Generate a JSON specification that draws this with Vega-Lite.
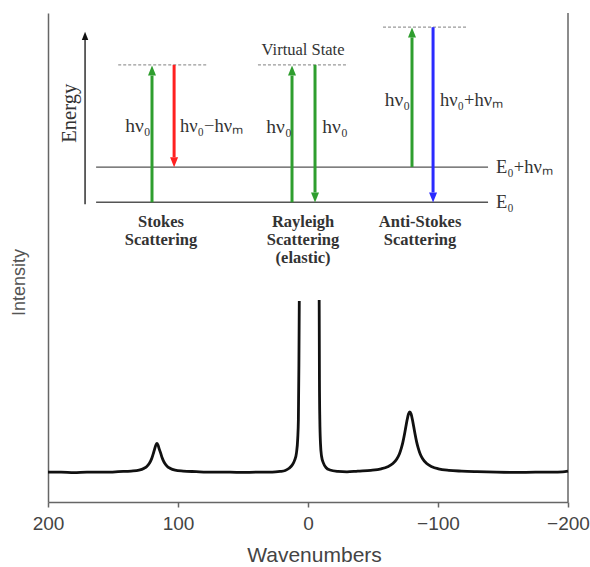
{
  "$schema": "https://vega.github.io/schema/vega-lite/v6.json",
  "width": 520,
  "height": 489,
  "autosize": {"type": "none"},
  "padding": {"left": 48, "top": 13, "right": 22, "bottom": 65},
  "config": {"view": {"stroke": null}, "font": "Liberation Sans"},
  "datasets": {
    "spectrum": [
      {"w": 200, "i": 6.1, "seg": "a"}, {"w": 190, "i": 6.1, "seg": "a"}, {"w": 180, "i": 6.0, "seg": "a"}, {"w": 170, "i": 6.1, "seg": "a"},
      {"w": 160, "i": 6.1, "seg": "a"}, {"w": 152, "i": 6.1, "seg": "a"}, {"w": 146, "i": 6.2, "seg": "a"}, {"w": 136, "i": 6.33, "seg": "a"},
      {"w": 130, "i": 6.51, "seg": "a"}, {"w": 126, "i": 6.91, "seg": "a"}, {"w": 124, "i": 7.28, "seg": "a"}, {"w": 122, "i": 7.92, "seg": "a"},
      {"w": 121, "i": 8.4, "seg": "a"}, {"w": 120, "i": 9.05, "seg": "a"}, {"w": 119, "i": 9.88, "seg": "a"}, {"w": 118, "i": 10.82, "seg": "a"},
      {"w": 117, "i": 11.65, "seg": "a"}, {"w": 116.2, "i": 12.0, "seg": "a"}, {"w": 115.4, "i": 11.65, "seg": "a"}, {"w": 114.4, "i": 10.82, "seg": "a"},
      {"w": 113.2, "i": 9.88, "seg": "a"}, {"w": 112.2, "i": 9.05, "seg": "a"}, {"w": 111.2, "i": 8.4, "seg": "a"}, {"w": 110.2, "i": 7.92, "seg": "a"},
      {"w": 108.2, "i": 7.28, "seg": "a"}, {"w": 106.2, "i": 6.91, "seg": "a"}, {"w": 102.2, "i": 6.51, "seg": "a"}, {"w": 96, "i": 6.33, "seg": "a"},
      {"w": 86, "i": 6.2, "seg": "a"}, {"w": 78, "i": 6.1, "seg": "a"}, {"w": 70, "i": 6.1, "seg": "a"},
      {"w": 60, "i": 6.1, "seg": "a"}, {"w": 50, "i": 6.05, "seg": "a"}, {"w": 40, "i": 6.1, "seg": "a"}, {"w": 30, "i": 6.1, "seg": "a"},
      {"w": 25, "i": 6.15, "seg": "a"}, {"w": 21.5, "i": 6.25, "seg": "a"}, {"w": 17.5, "i": 6.45, "seg": "a"}, {"w": 14.5, "i": 6.9, "seg": "a"},
      {"w": 12.0, "i": 7.6, "seg": "a"}, {"w": 10.2, "i": 8.6, "seg": "a"}, {"w": 8.9, "i": 10.0, "seg": "a"}, {"w": 7.9, "i": 13.0, "seg": "a"},
      {"w": 7.4, "i": 16.8, "seg": "a"}, {"w": 7.0, "i": 28.0, "seg": "a"}, {"w": 6.7, "i": 41.1, "seg": "a"},
      {"w": -8.6, "i": 41.3, "seg": "b"}, {"w": -8.8, "i": 25.0, "seg": "b"}, {"w": -9.1, "i": 16.8, "seg": "b"}, {"w": -9.6, "i": 12.0, "seg": "b"},
      {"w": -10.4, "i": 9.4, "seg": "b"}, {"w": -11.8, "i": 8.0, "seg": "b"}, {"w": -14, "i": 7.0, "seg": "b"}, {"w": -16.9, "i": 6.55, "seg": "b"},
      {"w": -23, "i": 6.25, "seg": "b"}, {"w": -30, "i": 6.15, "seg": "b"}, {"w": -38.3, "i": 6.31, "seg": "b"}, {"w": -48.3, "i": 6.47, "seg": "b"},
      {"w": -56.3, "i": 6.78, "seg": "b"}, {"w": -61.3, "i": 7.21, "seg": "b"}, {"w": -65.3, "i": 7.86, "seg": "b"}, {"w": -68.3, "i": 8.8, "seg": "b"},
      {"w": -70.3, "i": 9.83, "seg": "b"}, {"w": -71.8, "i": 11.02, "seg": "b"}, {"w": -73, "i": 12.25, "seg": "b"}, {"w": -74.3, "i": 13.96, "seg": "b"},
      {"w": -75.3, "i": 15.43, "seg": "b"}, {"w": -76.3, "i": 16.86, "seg": "b"}, {"w": -77.3, "i": 17.98, "seg": "b"}, {"w": -78.3, "i": 18.4, "seg": "b"},
      {"w": -79.3, "i": 17.98, "seg": "b"}, {"w": -80.3, "i": 16.86, "seg": "b"}, {"w": -81.3, "i": 15.43, "seg": "b"}, {"w": -82.3, "i": 13.96, "seg": "b"},
      {"w": -83.6, "i": 12.25, "seg": "b"}, {"w": -84.8, "i": 11.02, "seg": "b"}, {"w": -86.3, "i": 9.83, "seg": "b"}, {"w": -88.3, "i": 8.8, "seg": "b"},
      {"w": -91.3, "i": 7.86, "seg": "b"}, {"w": -95.3, "i": 7.21, "seg": "b"}, {"w": -100.3, "i": 6.78, "seg": "b"}, {"w": -108.3, "i": 6.47, "seg": "b"},
      {"w": -118.3, "i": 6.31, "seg": "b"}, {"w": -130, "i": 6.2, "seg": "b"}, {"w": -145, "i": 6.1, "seg": "b"}, {"w": -160, "i": 6.05, "seg": "b"},
      {"w": -175, "i": 6.1, "seg": "b"}, {"w": -188, "i": 6.1, "seg": "b"}, {"w": -196, "i": 6.15, "seg": "b"}, {"w": -200, "i": 6.3, "seg": "b"}
    ],
    "frame": [{"w": -200, "i": 0, "i2": 100}],
    "levels": [
      {"w": 163, "w2": -138.5, "i": 68.5, "kind": "solid"},
      {"w": 163, "w2": -138.5, "i": 61.3, "kind": "solid"},
      {"w": 146, "w2": 77, "i": 89.4, "kind": "dashed"},
      {"w": 38.5, "w2": -30.8, "i": 89.4, "kind": "dashed"},
      {"w": -57.7, "w2": -122.3, "i": 97.1, "kind": "dashed"}
    ],
    "shafts": [
      {"w": 120, "i": 61.3, "i2": 87.2, "kind": "green"},
      {"w": 103, "i": 89.4, "i2": 70.5, "kind": "red"},
      {"w": 12.3, "i": 61.3, "i2": 87.2, "kind": "green"},
      {"w": -5.4, "i": 89.4, "i2": 63.3, "kind": "green"},
      {"w": -80, "i": 68.5, "i2": 95.0, "kind": "green"},
      {"w": -96.2, "i": 97.1, "i2": 63.3, "kind": "blue"},
      {"w": 171.5, "i": 60.9, "i2": 94.5, "kind": "black"}
    ],
    "heads": [
      {"w": 120, "i": 87.2, "kind": "green", "dir": "up"},
      {"w": 103, "i": 70.5, "kind": "red", "dir": "down"},
      {"w": 12.3, "i": 87.2, "kind": "green", "dir": "up"},
      {"w": -5.4, "i": 63.3, "kind": "green", "dir": "down"},
      {"w": -80, "i": 95.0, "kind": "green", "dir": "up"},
      {"w": -96.2, "i": 63.3, "kind": "blue", "dir": "down"},
      {"w": 171.5, "i": 94.5, "kind": "black", "dir": "up"}
    ],
    "formulasCenter": [
      {"w": 130.8, "i": 76.9, "t": "hν₀"},
      {"w": 22.3, "i": 76.7, "t": "hν₀"},
      {"w": -20.8, "i": 76.7, "t": "hν₀"},
      {"w": -68.8, "i": 82.2, "t": "hν₀"}
    ],
    "formulasLeft": [
      {"w": 98.5, "i": 76.9, "t": "hν₀−hνₘ"},
      {"w": -101.5, "i": 82.2, "t": "hν₀+hνₘ"},
      {"w": -144.6, "i": 68.5, "t": "E₀+hνₘ"},
      {"w": -144.6, "i": 61.3, "t": "E₀"}
    ],
    "notes": [{"w": 3.8, "i": 92.4, "t": "Virtual State"}],
    "processes": [
      {"w": 113.1, "i": 57.3, "t": "Stokes"},
      {"w": 113.1, "i": 53.6, "t": "Scattering"},
      {"w": 3.8, "i": 57.3, "t": "Rayleigh"},
      {"w": 3.8, "i": 53.6, "t": "Scattering"},
      {"w": 3.8, "i": 49.9, "t": "(elastic)"},
      {"w": -86.2, "i": 57.3, "t": "Anti-Stokes"},
      {"w": -86.2, "i": 53.6, "t": "Scattering"}
    ],
    "axisLabel": [{"w": 183.1, "i": 79.5, "t": "Energy"}]
  },
  "encoding": {
    "x": {
      "field": "w", "type": "quantitative",
      "scale": {"domain": [-200, 200], "reverse": true, "nice": false, "zero": false},
      "axis": {
        "values": [200, 100, 0, -100, -200], "title": "Wavenumbers", "grid": false,
        "titleFontSize": 21, "titleFontWeight": "normal", "titleColor": "#444", "titleFont": "Liberation Sans", "titlePadding": 11, "titleX": 266,
        "labelFontSize": 19, "labelColor": "#444", "labelFont": "Liberation Sans", "labelPadding": 7, "labelFlush": false, "labelOverlap": false,
        "tickSize": 5, "tickColor": "#666", "tickWidth": 1.5, "domainColor": "#666", "domainWidth": 1.5
      }
    },
    "y": {
      "field": "i", "type": "quantitative",
      "scale": {"domain": [0, 100], "nice": false, "zero": false},
      "axis": {
        "title": "Intensity", "labels": false, "ticks": false, "grid": false,
        "domainColor": "#666", "domainWidth": 1.5,
        "titleFontSize": 18, "titleFontWeight": "normal", "titleColor": "#555", "titleFont": "Liberation Sans",
        "titlePadding": 20, "titleY": 269
      }
    }
  },
  "layer": [
    {
      "data": {"name": "frame"},
      "mark": {"type": "rule", "color": "#666", "strokeWidth": 1.5},
      "encoding": {"y2": {"field": "i2"}}
    },
    {
      "data": {"name": "spectrum"},
      "mark": {"type": "line", "color": "#111", "strokeWidth": 2.8, "interpolate": "monotone"},
      "encoding": {"detail": {"field": "seg"}}
    },
    {
      "data": {"name": "levels"},
      "transform": [{"filter": "datum.kind === 'solid'"}],
      "mark": {"type": "rule", "color": "#555", "strokeWidth": 1.3},
      "encoding": {"x2": {"field": "w2"}}
    },
    {
      "data": {"name": "levels"},
      "transform": [{"filter": "datum.kind === 'dashed'"}],
      "mark": {"type": "rule", "color": "#999", "strokeWidth": 1.3, "strokeDash": [3, 2]},
      "encoding": {"x2": {"field": "w2"}}
    },
    {
      "data": {"name": "shafts"},
      "mark": {"type": "rule"},
      "encoding": {
        "y2": {"field": "i2"},
        "color": {"field": "kind", "type": "nominal", "scale": {"domain": ["green", "red", "blue", "black"], "range": ["#2f9e2f", "#ff2020", "#2a2aff", "#111111"]}, "legend": null},
        "strokeWidth": {"field": "kind", "type": "nominal", "scale": {"type": "ordinal", "domain": ["green", "red", "blue", "black"], "range": [3, 3, 3, 1.3]}, "legend": null}
      }
    },
    {
      "data": {"name": "heads"},
      "mark": {"type": "point", "filled": true, "opacity": 1, "strokeWidth": 0},
      "encoding": {
        "color": {"field": "kind", "type": "nominal", "scale": {"domain": ["green", "red", "blue", "black"], "range": ["#2f9e2f", "#ff2020", "#2a2aff", "#111111"]}, "legend": null},
        "shape": {"field": "dir", "type": "nominal", "scale": {"domain": ["up", "down"], "range": ["M0,-1L-0.4,0L0.4,0Z", "M0,1L-0.4,0L0.4,0Z"]}, "legend": null},
        "size": {"field": "kind", "type": "nominal", "scale": {"type": "ordinal", "domain": ["green", "red", "blue", "black"], "range": [400, 400, 400, 260]}, "legend": null}
      }
    },
    {
      "data": {"name": "formulasCenter"},
      "mark": {"type": "text", "font": "Liberation Serif", "fontSize": 19.5, "color": "#333", "align": "center", "baseline": "middle"},
      "encoding": {"text": {"field": "t"}}
    },
    {
      "data": {"name": "formulasLeft"},
      "mark": {"type": "text", "font": "Liberation Serif", "fontSize": 18.5, "color": "#333", "align": "left", "baseline": "middle"},
      "encoding": {"text": {"field": "t"}}
    },
    {
      "data": {"name": "notes"},
      "mark": {"type": "text", "font": "Liberation Serif", "fontSize": 16.5, "color": "#333", "align": "center", "baseline": "middle"},
      "encoding": {"text": {"field": "t"}}
    },
    {
      "data": {"name": "processes"},
      "mark": {"type": "text", "font": "Liberation Serif", "fontSize": 16.5, "fontWeight": "bold", "color": "#333", "align": "center", "baseline": "middle"},
      "encoding": {"text": {"field": "t"}}
    },
    {
      "data": {"name": "axisLabel"},
      "mark": {"type": "text", "font": "Liberation Serif", "fontSize": 20.5, "color": "#333", "align": "center", "baseline": "middle", "angle": 270},
      "encoding": {"text": {"field": "t"}}
    }
  ]
}
